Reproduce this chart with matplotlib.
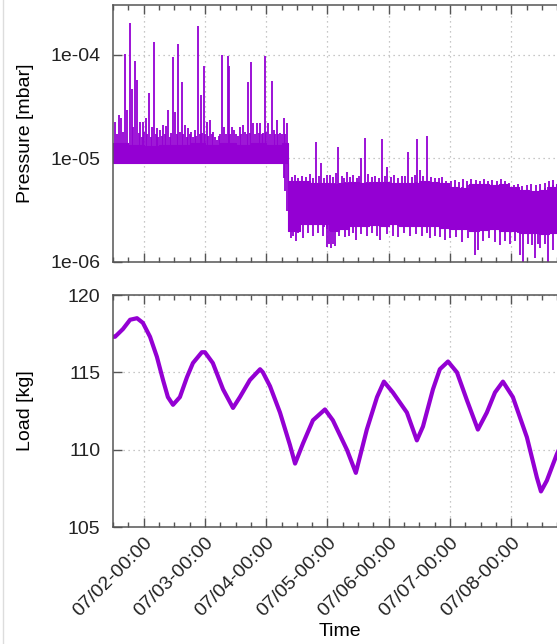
import numpy as np
import matplotlib
matplotlib.use("Agg")
import matplotlib.pyplot as plt
import matplotlib.dates as mdates
from matplotlib.lines import Line2D
from matplotlib.ticker import NullLocator

plt.rcParams['font.family'] = ['Liberation Sans', 'DejaVu Sans']

# ---------------- data (hours since 06/30 00:00) ----------------
# pressure: dense noise band envelope
band_hours = [36.0, 42.0, 48.0, 54.0, 60.0, 66.0, 72.0, 78.0, 84.0, 90.0, 96.0, 102.0,
              104.5, 109.2, 113.1, 117.0, 120.8, 124.7, 128.6, 132.5, 136.4, 140.2,
              144.2, 148.1, 152.0, 155.9, 159.9, 163.8, 167.7, 171.6, 175.5, 179.4,
              183.3, 187.2, 191.2, 195.1, 199.0, 202.9, 206.8, 209.6, 213.0]
band_hi = [1.4e-5, 1.35e-5, 1.3e-5, 1.35e-5, 1.35e-5, 1.4e-5, 1.35e-5, 1.4e-5, 1.35e-5,
           1.4e-5, 1.35e-5, 1.4e-5,
           6.0e-6, 6.0e-6, 5.8e-6, 5.8e-6, 5.7e-6, 5.8e-6, 5.9e-6, 5.8e-6, 5.9e-6, 5.9e-6,
           5.8e-6, 5.8e-6, 5.8e-6, 6.0e-6, 5.9e-6, 5.8e-6, 5.3e-6, 5.2e-6, 5.6e-6, 5.6e-6,
           5.5e-6, 5.6e-6, 5.3e-6, 4.9e-6, 4.8e-6, 4.9e-6, 5.3e-6, 5.7e-6, 5.7e-6]
band_lo = [9.0e-6] * 12 + \
          [2.0e-6, 2.3e-6, 2.3e-6, 2.3e-6, 2.0e-6, 2.1e-6, 2.2e-6, 2.2e-6, 2.25e-6, 2.2e-6,
           2.3e-6, 2.2e-6, 2.2e-6, 2.2e-6, 2.2e-6, 2.15e-6, 2.1e-6, 2.1e-6, 2.0e-6, 2.05e-6,
           2.1e-6, 2.0e-6, 2.0e-6, 1.9e-6, 1.9e-6, 1.85e-6, 1.9e-6, 2.0e-6, 2.0e-6]

# pressure: upward spikes
spike_up_hours = [36.8, 37.5, 38.3, 39.1, 40.0, 40.7, 41.5, 42.7, 43.4, 44.0, 44.6, 45.4,
                  46.0, 46.6, 47.2, 47.7, 48.3, 48.9, 49.5,
                  50.1, 50.8, 51.3, 52.1, 52.7, 53.2, 53.8, 54.4, 55.0, 55.6, 56.2, 56.7,
                  57.5, 58.2, 58.8, 59.5, 60.3, 61.0, 61.4, 62.2, 63.0, 63.6,
                  64.2, 64.8, 65.4, 66.0, 66.5, 67.3, 68.1, 68.7, 69.3, 69.9, 70.5, 71.0,
                  71.6, 72.2, 72.8, 73.4, 74.0, 74.6, 75.2, 76.0, 76.7, 77.5, 78.1, 78.7,
                  79.5, 80.2, 81.0, 81.4, 82.0, 82.6, 83.4, 84.2, 85.0, 85.7, 86.3, 86.9,
                  87.6, 88.3, 88.9, 89.5, 90.0, 90.8, 91.6, 92.4, 93.0, 93.6, 94.3, 94.9,
                  95.5, 96.1, 96.7, 97.5, 98.2, 99.0, 99.6, 100.2, 100.8, 101.4, 102.1,
                  102.9, 103.5, 104.1,
                  106.0, 107.2, 108.6, 110.0, 111.5, 113.0, 114.4, 115.5, 116.5, 117.4,
                  118.6, 119.8, 121.0, 122.3, 123.3, 124.1, 125.5, 126.6, 127.6, 128.7,
                  130.0, 131.4, 132.2, 133.1, 134.7, 136.0, 137.5, 138.8, 140.0, 141.3,
                  142.4, 143.3, 144.8, 146.2, 147.8, 149.3, 150.5, 151.5, 153.0, 154.2,
                  155.0, 156.2, 157.5, 158.9, 160.4, 162.0, 163.6, 165.0, 166.5, 168.2,
                  170.0, 171.5, 173.2, 174.8, 176.3, 178.0, 179.7, 181.3, 183.0, 184.6,
                  186.2, 188.0, 189.6, 191.2, 193.0, 194.7, 196.3, 198.0, 199.8, 201.5,
                  203.2, 205.0, 206.6, 208.2]
spike_up_vals = [2.25e-5, 1.7e-5, 2.6e-5, 2.46e-5, 1.8e-5, 1.02e-4, 2.9e-5, 2.0e-4, 4.7e-5,
                 2.0e-5, 8.75e-5, 5.7e-5, 1.75e-5, 2.25e-5, 1.6e-5, 2.25e-5, 1.8e-5, 2.46e-5,
                 1.7e-5,
                 4.3e-5, 1.6e-5, 2.0e-5, 1.31e-4, 1.7e-5, 1.97e-5, 1.6e-5, 1.88e-5, 1.65e-5,
                 2.1e-5, 1.7e-5, 2.06e-5,
                 2.9e-5, 1.6e-5, 1.75e-5, 9.4e-5, 2.8e-5, 1.7e-5, 1.25e-4, 1.8e-5, 5.4e-5,
                 1.7e-5,
                 2.1e-5, 1.6e-5, 1.97e-5, 1.7e-5, 1.8e-5, 1.6e-5, 1.88e-5, 1.65e-5, 1.87e-4,
                 1.7e-5, 4.1e-5, 1.75e-5,
                 7.7e-5, 1.7e-5, 2.25e-5, 1.65e-5, 2.35e-5, 1.7e-5, 1.8e-5, 1.6e-5, 1.5e-5,
                 1.65e-5, 1.7e-5, 1.0e-4,
                 2.0e-5, 1.7e-5, 9.6e-5, 7.7e-5, 1.7e-5, 2.0e-5, 1.88e-5, 1.7e-5, 1.65e-5,
                 2.0e-5, 1.7e-5, 2.1e-5,
                 1.8e-5, 1.7e-5, 5.4e-5, 1.75e-5, 8.4e-5, 2.2e-5, 1.7e-5, 2.2e-5, 1.75e-5,
                 2.2e-5, 1.7e-5, 1.75e-5,
                 9.6e-5, 1.8e-5, 2.2e-5, 1.7e-5, 5.5e-5, 1.88e-5, 1.7e-5, 2.35e-5, 1.7e-5,
                 1.76e-5, 1.7e-5,
                 2.46e-5, 1.7e-5, 2.2e-5,
                 6.6e-6, 6.9e-6, 6.5e-6, 6.8e-6, 6.6e-6, 7.0e-6, 6.5e-6, 1.45e-5, 6.8e-6,
                 9.05e-6,
                 6.5e-6, 6.9e-6, 6.9e-6, 6.6e-6, 7.2e-6, 1.29e-5, 6.7e-6, 6.5e-6, 7.3e-6,
                 6.6e-6,
                 6.9e-6, 6.5e-6, 6.8e-6, 1.01e-5, 1.58e-5, 7.0e-6, 6.6e-6, 6.8e-6, 6.5e-6,
                 1.54e-5,
                 6.7e-6, 8.3e-6, 6.6e-6, 6.9e-6, 6.5e-6, 6.7e-6, 6.8e-6, 1.16e-5, 6.6e-6,
                 6.9e-6,
                 1.54e-5, 7.75e-6, 6.7e-6, 1.65e-5, 6.6e-6, 6.5e-6, 6.4e-6, 6.6e-6, 6.1e-6,
                 6.0e-6,
                 6.2e-6, 5.9e-6, 6.3e-6, 6.0e-6, 6.3e-6, 6.2e-6, 6.0e-6, 6.3e-6, 6.1e-6,
                 6.2e-6,
                 6.0e-6, 6.3e-6, 6.1e-6, 5.8e-6, 5.5e-6, 5.6e-6, 5.4e-6, 5.5e-6, 5.6e-6,
                 5.5e-6,
                 5.6e-6, 5.8e-6, 6.0e-6, 6.2e-6]

# pressure: downward spikes
spike_dn_hours = [105.7, 106.5, 107.6, 108.5, 110.4, 112.3, 114.3, 116.2, 118.3, 119.8,
                  120.6, 121.3, 122.1, 122.9, 124.6, 126.8, 128.5, 130.0, 131.1, 133.3,
                  135.4, 137.5, 139.5, 140.5, 143.5, 145.6, 147.6, 149.8, 152.3, 154.5,
                  156.9, 158.9, 160.1, 162.1, 164.2, 166.0, 167.9, 170.2, 172.6, 175.0,
                  177.7, 178.9, 180.9, 183.2, 185.6, 187.5, 189.4, 191.6, 193.6, 195.3,
                  196.5, 198.4, 200.2, 201.2, 202.4, 203.2, 205.0, 206.3, 208.3]
spike_dn_vals = [1.7e-6, 1.8e-6, 1.6e-6, 1.9e-6, 1.7e-6, 1.9e-6, 1.8e-6, 1.9e-6, 1.8e-6,
                 1.4e-6, 1.5e-6, 1.37e-6, 1.5e-6, 1.43e-6, 1.8e-6, 1.74e-6, 1.8e-6, 1.9e-6,
                 1.63e-6, 1.85e-6, 1.8e-6, 1.9e-6, 1.8e-6, 1.63e-6, 1.85e-6, 1.8e-6, 1.74e-6,
                 1.9e-6, 1.78e-6, 1.85e-6, 1.8e-6, 1.9e-6, 1.7e-6, 1.8e-6, 1.75e-6, 1.63e-6,
                 1.7e-6, 1.75e-6, 1.56e-6, 1.7e-6, 1.17e-6, 1.31e-6, 1.6e-6, 1.7e-6, 1.55e-6,
                 1.46e-6, 1.6e-6, 1.5e-6, 1.6e-6, 1.17e-6, 1.0e-6, 1.5e-6, 1.45e-6, 1.09e-6,
                 1.5e-6, 1.37e-6, 1.5e-6, 1.0e-6, 1.31e-6]

# load
load_hours = [36.0, 36.8, 39.9, 42.7, 45.4, 47.7, 50.5, 53.2, 55.6, 57.5, 59.5, 62.2, 65.0,
              67.3, 70.8, 72.0, 75.1, 79.1, 83.0, 85.7, 89.6, 93.6, 94.7, 97.5, 101.4, 105.3,
              107.3, 110.4, 114.3, 119.0, 122.1, 127.6, 131.1, 135.4, 139.4, 142.1, 145.6,
              151.1, 155.0, 157.4, 161.3, 164.0, 167.2, 170.7, 174.6, 178.9, 182.4, 185.6,
              188.7, 192.6, 198.1, 202.0, 203.6, 205.9, 209.8, 212.0]
load_kg = [117.3, 117.3, 117.8, 118.4, 118.5, 118.2, 117.3, 116.0, 114.5, 113.4, 112.9,
           113.4, 114.7, 115.6, 116.3, 116.3, 115.6, 113.9, 112.7, 113.4, 114.5, 115.2, 115.0,
           114.1, 112.4, 110.3, 109.1, 110.4, 111.9, 112.6, 111.9, 110.0, 108.5, 111.3, 113.4,
           114.4, 113.7, 112.4, 110.6, 111.5, 113.9, 115.2, 115.7, 115.0, 113.2, 111.3, 112.4,
           113.7, 114.4, 113.4, 110.8, 108.2, 107.3, 108.0, 109.7, 110.5]

p_ticks = [1e-6, 1e-5, 1e-4]
p_ticklabels = ['1e-06', '1e-05', '1e-04']
load_ticks = [105, 110, 115, 120]

# ---------------- helpers ----------------
base = np.datetime64('2021-06-30T00:00')
def to_dt(hours):
    return base + (np.round(np.asarray(hours, dtype=float) * 60)).astype(int).astype('timedelta64[m]')

COLOR = '#9400d3'
SPINE = '#555555'
x_min_h, x_max_h = 36.0, 213.8

fig = plt.figure(figsize=(5.57, 6.44), dpi=100)
W, H = 557.0, 644.0
ax1 = fig.add_axes([113 / W, 1 - 262 / H, 454 / W, 257 / H])
ax2 = fig.add_axes([113 / W, 1 - 527 / H, 454 / W, 232 / H])

# pressure panel
bt = to_dt(band_hours)
ax1.fill_between(bt, band_lo, band_hi, step='post', color=COLOR, lw=0.8, edgecolor=COLOR)
ubase = np.interp(spike_up_hours, band_hours, band_lo)
ax1.vlines(to_dt(spike_up_hours), ubase, spike_up_vals, color=COLOR, lw=1.3)
dbase = np.interp(spike_dn_hours, band_hours, band_hi)
ax1.vlines(to_dt(spike_dn_hours), spike_dn_vals, dbase, color=COLOR, lw=1.3)
ax1.set_yscale('log')
ax1.set_ylim(1e-6, 3e-4)
ax1.set_yticks(p_ticks)
ax1.set_yticklabels(p_ticklabels)
ax1.yaxis.set_minor_locator(NullLocator())
ax1.set_ylabel('Pressure [mbar]', fontsize=14, va='center')
ax1.yaxis.set_label_coords((25 - 113) / 454, 0.5)

# load panel
ax2.plot(to_dt(load_hours), load_kg, color=COLOR, lw=3.0, solid_joinstyle='round')
ax2.set_ylim(105, 120)
ax2.set_yticks(load_ticks)
ax2.set_ylabel('Load [kg]', fontsize=14, va='center')
ax2.yaxis.set_label_coords((25 - 113) / 454, 0.5)
ax2.set_xlabel('Time', fontsize=14, va='center')
ax2.xaxis.set_label_coords(0.5, (527 - 632) / 232)

for ax in (ax1, ax2):
    ax.set_xlim(to_dt([x_min_h])[0], to_dt([x_max_h])[0])
    ax.xaxis.set_major_locator(mdates.DayLocator())
    ax.xaxis.set_minor_locator(mdates.HourLocator(byhour=[6, 12, 18]))
    ax.xaxis.set_major_formatter(mdates.DateFormatter('%m/%d-%H:%M'))
    ax.grid(True, which='major', color='#b5b5b5', linestyle=(0, (1, 3)), lw=0.9)
    ax.tick_params(which='both', direction='in', top=True, right=False, color=SPINE,
                   labelsize=14, labelcolor='#222222')
    ax.tick_params(which='major', length=6.5, width=1.0, pad=9)
    ax.tick_params(which='minor', length=3.5, width=1.0)
    for s in ax.spines.values():
        s.set_color(SPINE)
        s.set_linewidth(1.1)
    ax.set_axisbelow(True)

ax1.tick_params(axis='x', labelbottom=False)
for lab in ax2.get_xticklabels():
    lab.set_rotation(45)
    lab.set_ha('right')
    lab.set_va('top')
    lab.set_rotation_mode('anchor')
ax2.tick_params(axis='x', pad=5)

fig.add_artist(Line2D([3 / W, 3 / W], [0, 1], color='#dddddd', lw=1.0))

fig.savefig('out.png', dpi=100)
